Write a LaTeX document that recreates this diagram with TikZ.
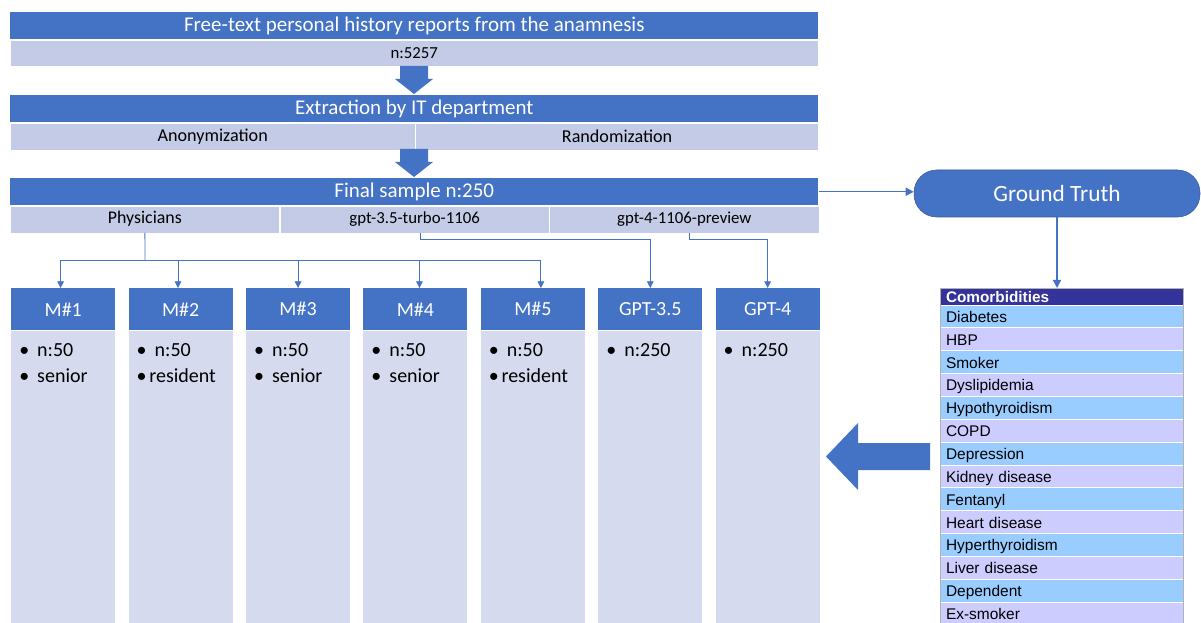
\documentclass[tikz,border=0pt]{standalone}
\usepackage{fontspec}
\setmainfont{Carlito}
\newfontfamily\arialfont{Liberation Sans}
\usetikzlibrary{arrows.meta}
\definecolor{darkblue}{HTML}{4472C4}
\definecolor{subblue}{HTML}{C3CBE6}
\definecolor{bodyblue}{HTML}{D5DAEE}
\definecolor{navy}{HTML}{333399}
\definecolor{rowblue}{HTML}{99CCFF}
\definecolor{rowlilac}{HTML}{CCCCFF}
\def\blockdown(#1:#2:#3){\fill[darkblue] (#1-14,#2) -- (#1+14,#2) -- (#1+14,#3-15) -- (#1+19,#3-15) -- (#1,#3) -- (#1-19,#3-15) -- (#1-14,#3-15) -- cycle;}
\def\bul#1{\makebox[13.5pt][l]{\textbullet}#1}
\def\tbul#1{\makebox[9.5pt][l]{\textbullet}#1}
\tikzset{
  titlebar/.style={fill=darkblue, text=white, inner sep=0pt, minimum width=606pt, minimum height=20.25pt, anchor=north west, font=\fontsize{15.75}{18}\selectfont},
  subbar/.style={fill=subblue, draw=white, line width=0.3pt, inner sep=0pt, minimum height=20.25pt, anchor=north west, font=\fontsize{12.6}{15}\selectfont},
  bigsub/.style={font=\fontsize{13.6}{15}\selectfont},
  colhead/.style={fill=darkblue, text=white, inner sep=0pt, minimum width=78pt, minimum height=31.5pt, anchor=north west, font=\fontsize{15}{18}\selectfont},
  colbody/.style={fill=bodyblue, inner sep=0pt, minimum width=78pt, minimum height=232.5pt, anchor=north},
  bullets/.style={anchor=north west, align=left, inner xsep=6pt, inner ysep=9.5pt, font=\fontsize{15}{19.5}\selectfont},
  link/.style={darkblue, line width=0.6pt},
  tip/.style={-{Triangle[length=5pt,width=5pt]}},
  gtbox/.style={fill=darkblue, draw=darkblue!80!black, line width=0.4pt, text=white, rounded corners=17pt, minimum width=214.5pt, minimum height=35.25pt, font=\fontsize{17.5}{20}\selectfont},
  comhead/.style={fill=navy, text=white, anchor=north west, inner sep=0pt, outer sep=0pt, inner xsep=4.5pt, text width=173.25pt, minimum height=12.75pt, text height=9.5pt, text depth=1pt, font=\arialfont\bfseries\fontsize{11.5}{12}\selectfont},
  comrow/.style={anchor=north west, draw=white, line width=0.6pt, inner sep=0pt, outer sep=0pt, inner xsep=4.5pt, text width=173.25pt, minimum height=17.14pt, text height=9.5pt, text depth=0.5pt, font=\arialfont\fontsize{11.6}{13}\selectfont}
}
\begin{document}
\begin{tikzpicture}[x=0.75pt, y=-0.75pt]
  \useasboundingbox (0,0) rectangle (1201,623);
  %%%%% START %%%%%
  \node[titlebar] (src) at (10,12) {Free-text personal history reports from the anamnesis};
  \node[subbar, minimum width=606pt, minimum height=19.5pt] (srcn) at (src.south west) {n:5257};
  \blockdown(414:66:94)

  \node[titlebar] (extract) at (10,95) {Extraction by IT department};
  \node[subbar, bigsub, minimum width=303.75pt] (anon) at (extract.south west) {Anonymization};
  \node[subbar, bigsub, minimum width=302.25pt] (rand) at (anon.north east) {Randomization};
  \blockdown(414:149:177)

  \node[titlebar] (final) at (10,178) {Final sample n:250};
  \node[subbar, minimum width=202pt, font=\fontsize{13.4}{15}\selectfont] (phys) at (final.south west) {Physicians};
  \node[subbar, minimum width=202pt] (gpt35cell) at (phys.north east) {gpt-3.5-turbo-1106};
  \node[subbar, minimum width=202pt] (gpt4cell) at (gpt35cell.north east) {gpt-4-1106-preview};

  \node[colhead] (m1) at (11,288) {M\#1};
  \node[colhead] (m2) at (128.4,288) {M\#2};
  \node[colhead] (m3) at (245.8,288) {M\#3};
  \node[colhead] (m4) at (363.2,288) {M\#4};
  \node[colhead] (m5) at (480.6,288) {M\#5};
  \node[colhead] (g35) at (598,288) {GPT-3.5};
  \node[colhead] (g4) at (715.4,288) {GPT-4};
  \node[colbody] (m1b) at (m1.south) {};
  \node[colbody] (m2b) at (m2.south) {};
  \node[colbody] (m3b) at (m3.south) {};
  \node[colbody] (m4b) at (m4.south) {};
  \node[colbody] (m5b) at (m5.south) {};
  \node[colbody] (g35b) at (g35.south) {};
  \node[colbody] (g4b) at (g4.south) {};
  \node[bullets] (m1t) at (m1b.north west) {\bul{n:50}\\\bul{senior}};
  \node[bullets] (m2t) at (m2b.north west) {\bul{n:50}\\\tbul{resident}};
  \node[bullets] (m3t) at (m3b.north west) {\bul{n:50}\\\bul{senior}};
  \node[bullets] (m4t) at (m4b.north west) {\bul{n:50}\\\bul{senior}};
  \node[bullets] (m5t) at (m5b.north west) {\bul{n:50}\\\tbul{resident}};
  \node[bullets] (g35t) at (g35b.north west) {\bul{n:250}};
  \node[bullets] (g4t) at (g4b.north west) {\bul{n:250}};

  % physicians split to the five raters
  \coordinate (split) at (145,260);
  \draw[link] (phys.south) -- (split);
  \draw[link] ([xshift=-2pt]m1.north |- split) -- ([xshift=6pt]m5.north |- split);
  \draw[link,tip] (split) -| ([xshift=-2pt]m1.north);
  \draw[link,tip] (split) -| ([xshift=-2pt]m2.north);
  \draw[link,tip] (split) -| (m3.north);
  \draw[link,tip] (split) -| ([xshift=3pt]m4.north);
  \draw[link,tip] (split) -| ([xshift=6pt]m5.north);
  \draw[link,tip] ([xshift=4pt]gpt35cell.south) -- ++(0,6) -| (g35.north);
  \draw[link,tip] ([xshift=4pt]gpt4cell.south) -- ++(0,6) -| (g4.north);

  % ground truth
  \node[gtbox] (gt) at (1057,193.5) {Ground Truth};
  \draw[darkblue, line width=1.1pt, -{Triangle[length=6pt,width=6pt]}] (final.east) -- (final.east -| gt.west);

  \node[comhead] (comhead) at (940,288) {Comorbidities};
  \node[comrow, fill=rowblue] (r1) at (comhead.south west) {Diabetes};
  \node[comrow, fill=rowlilac] (r2) at (r1.south west) {HBP};
  \node[comrow, fill=rowblue] (r3) at (r2.south west) {Smoker};
  \node[comrow, fill=rowlilac] (r4) at (r3.south west) {Dyslipidemia};
  \node[comrow, fill=rowblue] (r5) at (r4.south west) {Hypothyroidism};
  \node[comrow, fill=rowlilac] (r6) at (r5.south west) {COPD};
  \node[comrow, fill=rowblue] (r7) at (r6.south west) {Depression};
  \node[comrow, fill=rowlilac] (r8) at (r7.south west) {Kidney disease};
  \node[comrow, fill=rowblue] (r9) at (r8.south west) {Fentanyl};
  \node[comrow, fill=rowlilac] (r10) at (r9.south west) {Heart disease};
  \node[comrow, fill=rowblue] (r11) at (r10.south west) {Hyperthyroidism};
  \node[comrow, fill=rowlilac] (r12) at (r11.south west) {Liver disease};
  \node[comrow, fill=rowblue] (r13) at (r12.south west) {Dependent};
  \node[comrow, fill=rowlilac] (r14) at (r13.south west) {Ex-smoker};
  \draw[gray!60, line width=0.5pt] (comhead.north west) rectangle (r14.south east);
  \draw[darkblue, line width=1.1pt, -{Triangle[length=6pt,width=6pt]}] (gt.south) -- (gt.south |- comhead.north);

  \fill[darkblue] (930,443) -- (858,443) -- (858,423) -- (826,456.5) -- (858,490) -- (858,470) -- (930,470) -- cycle;
  %%%%% END %%%%%
\end{tikzpicture}
\end{document}
